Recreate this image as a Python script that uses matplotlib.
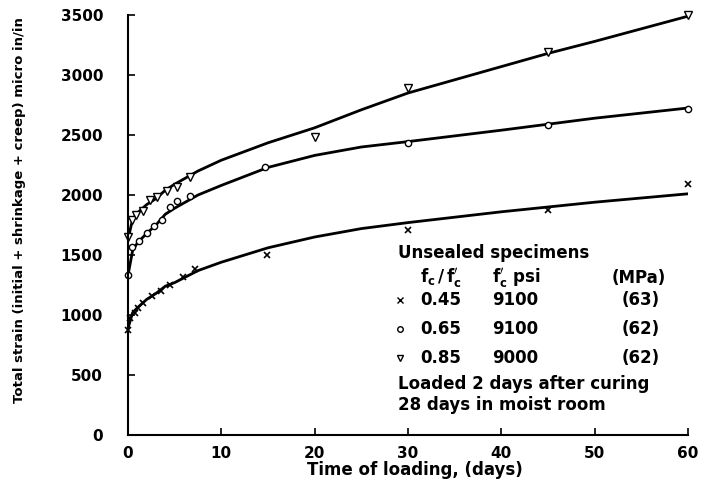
import numpy as np
import matplotlib.pyplot as plt

# marker data (days, micro in/in)
t_x = [0, 0.2, 0.7, 1.1, 1.6, 2.6, 3.5, 4.5, 5.9, 7.2, 14.9, 30, 45, 60]
s_x = [875, 975, 1020, 1060, 1097, 1160, 1200, 1250, 1319, 1380, 1500, 1708, 1875, 2090]

t_o = [0, 0.4, 1.2, 2.0, 2.8, 3.6, 4.5, 5.3, 6.6, 14.7, 30, 45, 60]
s_o = [1330, 1570, 1620, 1680, 1740, 1790, 1900, 1950, 1990, 2235, 2430, 2585, 2720]

t_v = [0, 0.4, 0.9, 1.6, 2.4, 3.1, 4.2, 5.2, 6.6, 20, 30, 45, 60]
s_v = [1650, 1790, 1830, 1870, 1960, 1985, 2030, 2070, 2150, 2480, 2890, 3195, 3500]

# fitted curves
t_curve = [0, 0.5, 1, 2, 3, 4, 5, 7.5, 10, 15, 20, 25, 30, 40, 45, 50, 60]
c_x = [890, 1020, 1060, 1130, 1180, 1240, 1270, 1370, 1440, 1560, 1650, 1720, 1770, 1860, 1900, 1940, 2010]
c_o = [1330, 1540, 1600, 1680, 1750, 1840, 1890, 2000, 2080, 2230, 2330, 2400, 2445, 2540, 2590, 2640, 2725]
c_v = [1630, 1800, 1850, 1920, 1970, 2040, 2090, 2200, 2290, 2435, 2560, 2710, 2850, 3070, 3180, 3280, 3490]

xticks = [0, 10, 20, 30, 40, 50, 60]
yticks = [0, 500, 1000, 1500, 2000, 2500, 3000, 3500]

W, H = 724, 488
fig = plt.figure(figsize=(W / 100, H / 100), dpi=100)
ax = fig.add_axes([128 / W, 1 - 435 / H, 560 / W, 420 / H])

for c in [c_x, c_o, c_v]:
    ax.plot(t_curve, c, color='black', lw=2)
ax.plot(t_x, s_x, 'x', color='black', ms=4, mew=1.2, clip_on=False)
ax.plot(t_o, s_o, 'o', mfc='white', mec='black', ms=4.5, mew=1, clip_on=False)
ax.plot(t_v, s_v, 'v', mfc='white', mec='black', ms=5.5, mew=1, clip_on=False)

ax.set_xlim(0, 60)
ax.set_ylim(0, 3500)
ax.set_xticks(xticks)
ax.set_yticks(yticks)
ax.spines['top'].set_visible(False)
ax.spines['right'].set_visible(False)
ax.spines['left'].set_linewidth(1.5)
ax.spines['bottom'].set_linewidth(1.5)
ax.tick_params(direction='in', length=5, width=1.2, labelsize=11)
ax.tick_params(axis='y', pad=18)
ax.tick_params(axis='x', pad=8)
for lab in ax.get_xticklabels() + ax.get_yticklabels():
    lab.set_fontweight('bold')

fig.text(415 / W, 1 - 470 / H, 'Time of loading, (days)', ha='center', va='center',
         fontsize=12, fontweight='bold')
fig.text(20 / W, 1 - 210 / H, 'Total strain (initial + shrinkage + creep) micro in/in',
         rotation=90, ha='center', va='center', fontsize=9.5, fontweight='bold')

def ftext(px, py, s, size=12):
    fig.text(px / W, 1 - py / H, s, va='center', fontweight='bold', fontsize=size)

ftext(398, 253, 'Unsealed specimens')
ftext(420, 278, r"$\mathbf{f_c\,/\,f_c'}$")
ftext(492, 278, r"$\mathbf{f_c'}$ psi")
ftext(612, 278, '(MPa)')
rows = [('x', '0.45', '9100', '(63)'), ('o', '0.65', '9100', '(62)'), ('v', '0.85', '9000', '(62)')]
for i, (m, r, psi, mpa) in enumerate(rows):
    py = 300 + i * 29
    ax.plot([(400 - 128) / 560 * 60], [(435 - py) / 420 * 3500], m,
            mfc='white', mec='black', color='black', ms=4, mew=1, clip_on=False)
    ftext(420, py, r)
    ftext(492, py, psi)
    ftext(622, py, mpa)
ftext(398, 384, 'Loaded 2 days after curing')
ftext(398, 405, '28 days in moist room')

fig.savefig('out.png', dpi=100)
